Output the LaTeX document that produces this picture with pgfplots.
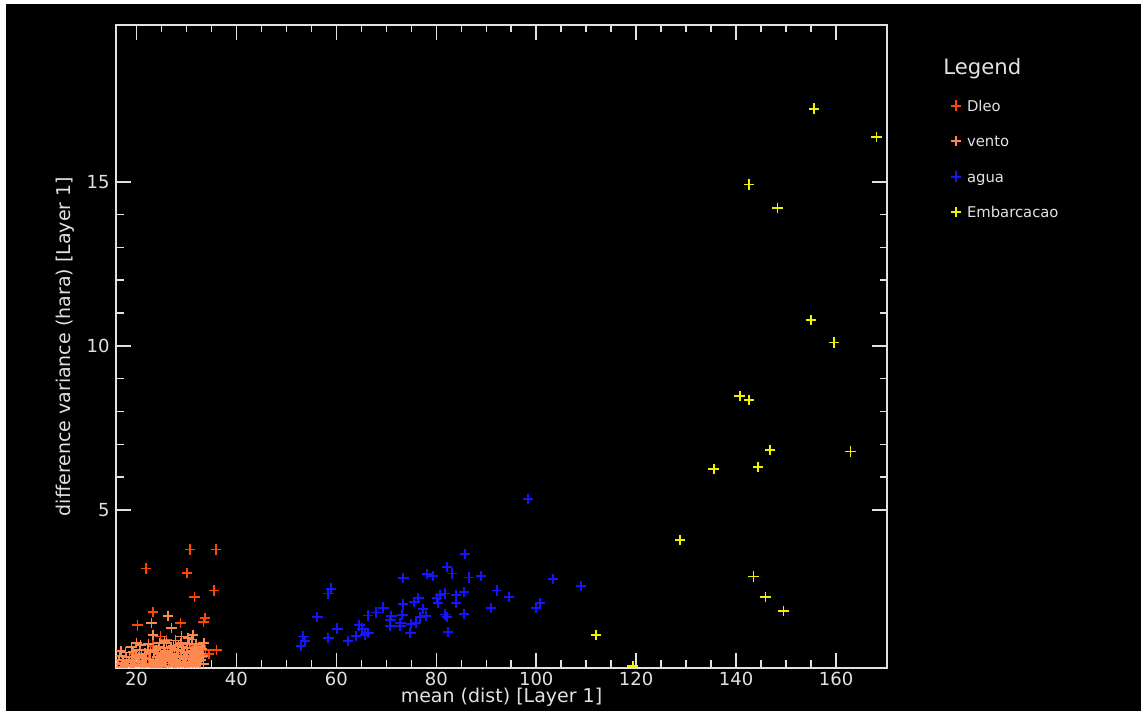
\documentclass[border=0pt]{standalone}
\usepackage{pgfplots}
\pgfplotsset{compat=1.18}
\usepackage{fontspec}
\setmainfont{DejaVu Sans}
\definecolor{oleo}{RGB}{255,69,0}
\definecolor{vento}{RGB}{255,135,80}
\definecolor{agua}{RGB}{20,20,255}
\definecolor{embar}{RGB}{240,240,0}
\definecolor{fg}{RGB}{225,225,225}

\pgfplotstableread{
x y
30.7 3.79
35.9 3.79
21.9 3.21
30.1 3.08
35.5 2.54
31.6 2.35
23.3 1.88
33.7 1.71
33.4 1.59
20.2 1.48
28.8 1.55
24.8 1.14
23.3 0.86
36.0 0.73
33.8 0.73
34.5 0.61
26.0 1.04
22.5 0.45
25.5 0.32
27.6 0.70
29.5 0.50
31.8 0.85
33.0 0.50
19.5 0.60
21.0 0.30
27.4 0.28
}\oleodata

\pgfplotstableread{
x y
16.2 0.30
16.6 0.55
17.0 0.22
17.4 0.42
17.8 0.65
18.2 0.28
18.6 0.50
19.0 0.81
19.1 0.35
19.5 0.24
19.9 0.58
20.3 0.38
20.6 0.72
20.9 0.26
21.3 0.48
21.7 0.62
22.0 0.30
22.4 0.90
22.7 0.44
23.0 1.55
23.1 0.24
23.3 1.19
23.5 0.66
23.8 0.36
24.1 0.52
24.4 0.82
24.7 0.28
25.0 0.58
25.3 0.40
25.6 1.00
25.9 0.24
26.2 0.70
26.3 1.77
26.5 0.46
26.8 0.32
27.0 1.39
27.1 0.60
27.4 0.86
27.7 0.26
28.0 0.50
28.3 0.72
28.6 0.38
28.9 0.95
29.0 1.14
29.2 0.28
29.5 0.62
29.8 0.44
30.1 0.80
30.3 1.09
30.4 0.24
30.7 0.55
31.0 0.36
31.3 1.19
31.3 0.70
31.6 0.48
31.9 0.90
32.2 0.30
32.5 0.62
32.8 0.42
33.1 0.75
26.0 0.95
24.0 0.30
21.0 0.55
27.9 0.30
30.0 0.45
22.8 0.66
20.0 0.95
18.4 0.40
16.4 0.42
17.2 0.33
18.0 0.52
18.9 0.26
19.7 0.44
20.5 0.50
21.1 0.38
21.9 0.46
22.6 0.28
23.4 0.42
24.3 0.64
25.1 0.34
25.8 0.52
26.6 0.60
27.3 0.40
28.1 0.62
28.8 0.50
29.6 0.34
30.2 0.64
30.9 0.44
31.5 0.58
32.1 0.52
32.7 0.32
33.3 0.55
29.3 0.82
30.6 0.92
31.1 1.05
28.4 0.88
27.8 1.02
26.9 0.78
25.5 0.78
24.6 0.95
23.9 0.72
32.4 0.82
33.5 0.95
31.8 0.25
29.9 0.26
28.5 0.25
16.9 0.70
17.7 0.25
19.3 0.68
20.8 0.88
21.5 0.25
22.2 0.72
23.7 0.22
24.8 0.46
25.7 0.66
26.4 0.25
27.6 0.54
28.2 0.36
29.0 0.68
29.7 0.55
30.5 0.34
31.2 0.28
31.7 0.75
32.3 0.40
32.9 0.62
33.4 0.30
30.8 0.66
29.4 0.44
27.0 0.48
}\ventodata

\pgfplotstableread{
x y
58.9 2.60
58.4 2.45
56.2 1.73
53.4 1.14
53.7 1.00
52.9 0.85
58.4 1.10
60.2 1.38
62.3 1.00
63.9 1.16
64.6 1.48
65.1 1.38
65.7 1.18
66.4 1.24
66.3 1.78
67.9 1.87
69.4 2.02
70.8 1.65
71.0 1.77
70.8 1.47
72.8 1.56
73.2 1.80
73.3 2.12
73.4 2.93
72.8 1.47
74.9 1.52
74.8 1.24
75.6 2.20
76.4 2.31
75.9 1.56
77.3 1.97
76.7 1.73
77.9 1.77
78.2 3.04
79.3 2.98
80.2 2.31
80.3 2.17
98.3 5.34
85.8 3.66
82.1 3.25
83.1 3.06
86.5 2.94
88.9 2.98
103.4 2.89
109.0 2.68
92.2 2.54
94.6 2.35
85.5 2.49
84.0 2.41
81.7 2.45
80.8 2.41
84.0 2.16
91.0 2.01
100.8 2.16
99.9 2.01
81.8 1.81
82.1 1.74
85.5 1.82
82.4 1.28
}\aguadata

\pgfplotstableread{
x y
141.3 19.90
155.6 17.23
168.1 16.36
142.6 14.92
148.3 14.20
170.6 11.90
155.0 10.78
159.6 10.10
140.7 8.48
142.6 8.35
146.8 6.83
162.9 6.78
135.5 6.24
144.4 6.30
128.8 4.08
143.5 2.97
145.9 2.34
149.5 1.92
112.0 1.19
119.3 0.24
}\embardata

\begin{document}
\begin{tikzpicture}[x=1pt,y=1pt]
\path[use as bounding box] (0,0) rectangle (570.5,355.5);
\fill[black] (3,0) rectangle (570.5,353.5);
\begin{axis}[
  at={(58pt,21.5pt)}, anchor=south west,
  scale only axis, width=385.5pt, height=321.5pt,
  xmin=15.9, xmax=170.2, ymin=0.18, ymax=19.78,
  xtick={20,40,...,160}, ytick={5,10,15},
  minor x tick num=3, minor y tick num=4,
  major tick length=7.5pt, minor tick length=3.75pt,
  tick align=inside,
  axis line style={fg, line width=1pt},
  every tick/.style={fg, line width=0.75pt},
  minor tick style={fg, line width=0.75pt},
  major tick style={fg, line width=0.75pt},
  /pgf/number format/assume math mode=true,
  tick label style={text=fg, font=\fontsize{9}{10}\selectfont, inner sep=0pt},
  xticklabel style={yshift=-2pt},
  yticklabel style={xshift=-3pt},
  label style={text=fg, font=\fontsize{9.5}{11}\selectfont, inner sep=0pt},
  xlabel={mean (dist) [Layer 1]},
  ylabel={difference variance (hara) [Layer 1]},
  xlabel style={at={(axis description cs:0.5,0)}, anchor=north, yshift=-9.8pt},
  ylabel style={at={(axis description cs:-0.0532,0.5)}, anchor=south},
  clip marker paths=true,
  legend style={at={(axis description cs:1.0828,0.8829)}, anchor=north west,
    draw=none, fill=none, text=fg, font=\fontsize{7.4}{8}\selectfont,
    inner sep=0pt, outer sep=0pt, row sep=12.35pt, column sep=2.9pt,
    nodes={inner sep=0pt, text height=5.4pt, text depth=0pt}},
  legend cell align=left,
  mk/.style={only marks, mark=+, mark size=2.6pt, line width=0.9pt,
    legend image code/.code={\path[draw=none,fill=none] (0pt,-2.6pt) rectangle (5.2pt,2.6pt);
      \draw[##1] plot coordinates {(2.6pt,0pt)};}},
]
\addplot[mk, color=oleo] table[x=x,y=y] {\oleodata};
\addlegendentry{Dleo}
\addplot[mk, color=vento] table[x=x,y=y] {\ventodata};
\addlegendentry{vento}
\addplot[mk, color=agua] table[x=x,y=y] {\aguadata};
\addlegendentry{agua}
\addplot[mk, color=embar] table[x=x,y=y] {\embardata};
\addlegendentry{Embarcacao}
\end{axis}
\node[anchor=base west, text=fg, font=\fontsize{10.6}{12}\selectfont, inner sep=0pt] at (471.5,318) {Legend};
\end{tikzpicture}
\end{document}
